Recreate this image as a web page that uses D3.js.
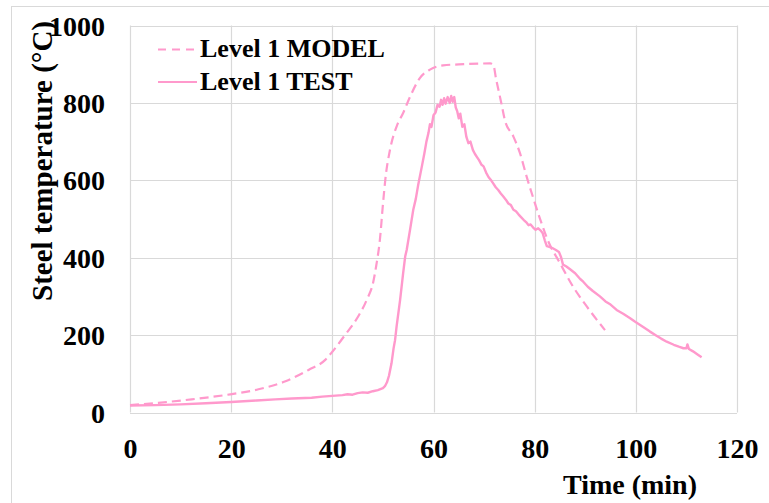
<!DOCTYPE html>
<html>
<head>
<meta charset="utf-8">
<script src="https://cdn.jsdelivr.net/npm/d3@7"></script>
<style>
  html, body { margin: 0; padding: 0; background: #fff; }
  svg { display: block; }
  text { font-family: "Liberation Serif", "Times New Roman", serif; font-weight: bold; fill: #000; }
</style>
</head>
<body>
<svg id="chart" width="769" height="503"></svg>
<script>
// ---- data ----
const xTicks = [0, 20, 40, 60, 80, 100, 120];
const yTicks = [0, 200, 400, 600, 800, 1000];
const seriesNames = ["Level 1 MODEL", "Level 1 TEST"];
const xTitle = "Time (min)";
const yTitle = "Steel temperature (°C)";

// Level 1 MODEL: [time (min), temperature (°C)]
const modelData = [
  [0,19],[5.6,25],[12.2,34],[18.8,45],[25.4,60],[30.6,80],[35.3,110],[38.6,136],
  [40,157],[42.5,200],[45.1,248],[46.8,291],[48.1,338],[48.7,381],[49.4,446],
  [50,537],[50.5,605],[51.4,679],[52.7,739],[54,774],[55.4,817],[57.3,864],
  [59.3,886],[61.9,897],[66,900],[71.2,902],[71.8,899],[72.4,860],[73.4,800],
  [74.1,756],[75.8,713],[77.1,670],[78.4,610],[79.7,555],[81.2,495],[82.6,445],
  [85,386],[87.6,325],[90.3,274],[93.9,213]
];

// Level 1 TEST: [time (min), temperature (°C)]
const testData = [
  [0,18],[5,19],[10,21],[15,24],[20,27],[25,31],[28.7,34],[32,36],[35.9,38],
  [38,41],[40,43],[42,45],[43,47],[44,46],[45,50],[46,52],[47,51],[48,55],[49,58],
  [50,63],[50.4,68],[50.8,78],[51.2,95],[51.7,127],[52.1,165],[52.4,187],[52.7,222],
  [53.4,291],[54,360],[54.4,403],[54.7,420],[55.4,475],[56,524],[56.5,552],
  [57,590],[57.7,636],[58.2,670],[58.6,700],[59,722],[59.3,745],[59.6,738],
  [60,768],[60.4,775],[60.8,795],[61.2,790],[61.5,808],[61.8,795],[62.1,812],
  [62.4,798],[62.8,815],[63.2,800],[63.5,818],[63.8,803],[64.1,815],[64.4,788],
  [64.7,778],[65,760],[65.3,772],[65.7,738],[66.1,745],[66.5,712],[66.9,696],
  [67.3,700],[67.8,678],[68.2,668],[68.6,660],[69,652],[69.5,640],[69.9,636],
  [70.4,620],[70.9,608],[71.4,600],[71.8,592],[72.3,582],[72.8,575],[73.3,566],
  [73.8,558],[74.3,550],[74.8,540],[75.3,536],[75.8,524],[76.3,520],[76.8,512],
  [77.3,505],[77.8,498],[78.3,492],[78.8,484],[79.2,486],[79.7,478],[80.2,472],
  [80.7,476],[81.2,470],[81.6,463],[82,445],[82.4,430],[82.9,428],[83.5,425],
  [84.2,420],[84.8,415],[85.2,402],[85.6,382],[86.2,378],[87,370],[88,360],
  [89,345],[89.6,338],[90.5,325],[91.5,314],[92.9,300],[94,287],[95,279],
  [96.2,265],[97.5,255],[98.8,244],[99.8,235],[101,225],[102.8,209],[104,199],
  [105,191],[106.1,183],[107.5,175],[108.5,170],[109.4,166],[110,166],[110.2,176],
  [110.5,164],[111.3,158],[112.2,150],[113,143]
];

// ---- layout ----
const svg = d3.select("#chart");
const plot = { left: 130, right: 737, top: 25.5, bottom: 412.5 };
const pink = "#ff99cc";
const gridColor = "#d9d9d9";

const x = d3.scaleLinear().domain([0, 120]).range([plot.left, plot.right]);
const y = d3.scaleLinear().domain([0, 1000]).range([plot.bottom, plot.top]);

// outer chart border
svg.append("rect")
  .attr("x", 11.5).attr("y", 6.5).attr("width", 820).attr("height", 600)
  .attr("fill", "none").attr("stroke", "#d9d9d9").attr("stroke-width", 1);

// gridlines
const g = svg.append("g");
g.selectAll("line.hg").data(yTicks).join("line")
  .attr("x1", plot.left).attr("x2", plot.right)
  .attr("y1", d => Math.round(y(d)) + 0.5).attr("y2", d => Math.round(y(d)) + 0.5)
  .attr("stroke", gridColor).attr("stroke-width", 1.2);
g.selectAll("line.vg").data(xTicks).join("line")
  .attr("y1", plot.top).attr("y2", plot.bottom)
  .attr("x1", d => Math.round(x(d)) + 0.5).attr("x2", d => Math.round(x(d)) + 0.5)
  .attr("stroke", gridColor).attr("stroke-width", 1.2);

// axes (labels only, via d3 axes)
const yAxis = svg.append("g")
  .attr("transform", `translate(${plot.left - 25},0)`)
  .call(d3.axisLeft(y).tickValues(yTicks).tickSize(0).tickPadding(0).tickFormat(d3.format("d")));
yAxis.select(".domain").remove();
yAxis.selectAll("text")
  .style("font-family", '"Liberation Serif", "Times New Roman", serif')
  .style("font-weight", "bold").style("font-size", "28px").attr("fill", "#000")
  .attr("dy", "0.34em");

const xAxis = svg.append("g")
  .attr("transform", `translate(0,${plot.bottom})`)
  .call(d3.axisBottom(x).tickValues(xTicks).tickSize(0).tickPadding(0).tickFormat(d3.format("d")));
xAxis.select(".domain").remove();
xAxis.selectAll("text")
  .style("font-family", '"Liberation Serif", "Times New Roman", serif')
  .style("font-weight", "bold").style("font-size", "28px").attr("fill", "#000")
  .attr("dy", null).attr("y", 45);

// axis titles
svg.append("text")
  .attr("x", 630).attr("y", 494).attr("text-anchor", "middle")
  .style("font-size", "28px").text(xTitle);
svg.append("text")
  .attr("transform", "translate(52,161) rotate(-90)")
  .attr("text-anchor", "middle")
  .style("font-size", "29px").text(yTitle);

// series
const line = d3.line().x(d => x(d[0])).y(d => y(d[1]));
svg.append("path")
  .datum(modelData)
  .attr("d", line.curve(d3.curveMonotoneX))
  .attr("fill", "none").attr("stroke", pink).attr("stroke-width", 2.2)
  .attr("stroke-dasharray", "9,5");
svg.append("path")
  .datum(testData)
  .attr("d", d3.line().x(d => x(d[0])).y(d => y(d[1])))
  .attr("fill", "none").attr("stroke", pink).attr("stroke-width", 2.4)
  .attr("stroke-linejoin", "round");

// legend
const legend = svg.append("g");
const legendRows = [
  { name: seriesNames[0], dash: "8,6", ly: 49.5, ty: 57 },
  { name: seriesNames[1], dash: null, ly: 82, ty: 90 }
];
legendRows.forEach(r => {
  legend.append("line")
    .attr("x1", 158).attr("x2", 197).attr("y1", r.ly).attr("y2", r.ly)
    .attr("stroke", pink).attr("stroke-width", 2.2)
    .attr("stroke-dasharray", r.dash);
  legend.append("text")
    .attr("x", 200).attr("y", r.ty)
    .style("font-size", "26px").text(r.name);
});
</script>
</body>
</html>
